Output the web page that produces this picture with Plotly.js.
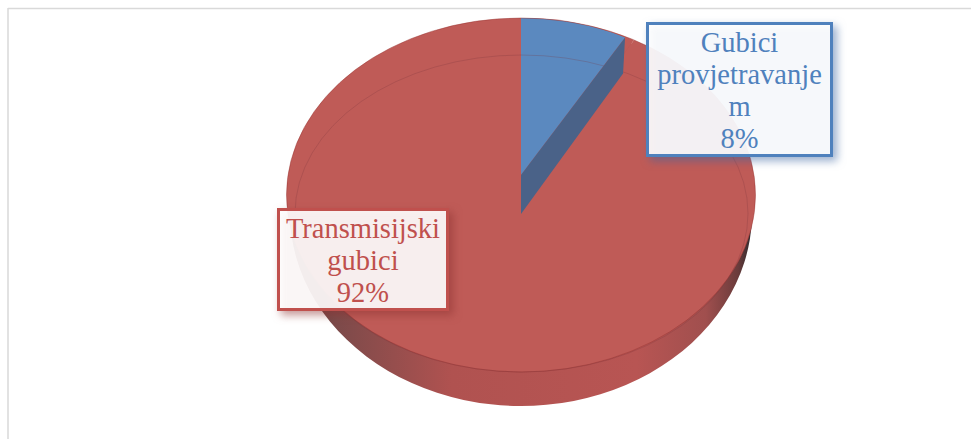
<!DOCTYPE html>
<html>
<head>
<meta charset="utf-8">
<script src="https://cdn.plot.ly/plotly-3.0.1.min.js"></script>
<style>html,body{margin:0;padding:0;background:#fff;overflow:hidden}</style>
</head>
<body>
<div id="chart" style="width:971px;height:439px"></div>
<script>
const categories = ["Gubici provjetravanjem", "Transmisijski gubici"];
const values = [8, 92];
const labelTexts = ["Gubici<br>provjetravanje<br>m<br>8%", "Transmisijski<br>gubici<br>92%"];

const W = 971, H = 439;
const BLUE = "#5B89BF", BLUE_DARK = "#4A6288", RED = "#BF5B57", NONE = "rgba(0,0,0,0)";
const px = x => x / W, py = y => 1 - y / H;

function pieTrace(colors) {
  return {
    type: "pie", labels: categories, values: values, sort: false,
    direction: "clockwise", rotation: 0, textinfo: "none", hoverinfo: "skip",
    showlegend: false, domain: {x: [0, 1], y: [0, 1]},
    marker: {colors: colors, line: {width: 0}}
  };
}

// wall, top face, top of the small slice
const data = [
  pieTrace([RED, RED]),
  pieTrace([RED, RED]),
  pieTrace([BLUE, NONE])
];
// projected ellipse of every layer: centre x, centre y, radius x, radius y
const ellipses = [
  [521, 213, 231, 193],
  [521, 195, 234.5, 177],
  [521, 175, 216, 157]
];

// cut face of the small slice follows the slice's angle
const sliceTop = ellipses[2];
const sliceDepth = 39;
const sliceAngle = 2 * Math.PI * values[0] / (values[0] + values[1]);
const edgeX = sliceTop[0] + sliceTop[2] * Math.sin(sliceAngle);
const edgeY = sliceTop[1] - sliceTop[3] * Math.cos(sliceAngle);
const cutFace = "M" + [
  [px(sliceTop[0]), py(sliceTop[1])],
  [px(edgeX), py(edgeY)],
  [px(edgeX - 2), py(edgeY + sliceDepth - 3)],
  [px(sliceTop[0]), py(sliceTop[1] + sliceDepth)]
].map(p => p.join(",")).join("L") + "Z";

const layout = {
  width: W, height: H,
  margin: {l: 0, r: 0, t: 0, b: 0},
  paper_bgcolor: "#fff",
  showlegend: false,
  shapes: [
    {type: "line", xref: "paper", yref: "paper", layer: "below", x0: px(8), x1: 1, y0: py(8.5), y1: py(8.5), line: {color: "#D9D9D9", width: 1.5}},
    {type: "line", xref: "paper", yref: "paper", layer: "below", x0: px(8), x1: px(8), y0: py(8), y1: 0, line: {color: "#D9D9D9", width: 1.5}},
    {type: "circle", xref: "paper", yref: "paper", layer: "above", x0: px(286.5), x1: px(755.5), y0: py(18), y1: py(372), line: {color: "rgba(150,50,48,0.45)", width: 1}},
    {type: "circle", xref: "paper", yref: "paper", layer: "above", x0: px(295), x1: px(748), y0: py(55), y1: py(372), line: {color: "rgba(120,50,60,0.25)", width: 1}},
    {type: "path", xref: "paper", yref: "paper", layer: "above", path: cutFace, fillcolor: BLUE_DARK, line: {width: 0}}
  ],
  annotations: [
    {xref: "paper", yref: "paper", x: px(739), y: py(89), xanchor: "center", yanchor: "middle", showarrow: false,
     text: labelTexts[0], width: 181, height: 129, borderpad: 0, borderwidth: 3, bordercolor: "#4F81BD",
     bgcolor: "rgba(255,255,255,0.91)", font: {family: "Liberation Serif", size: 28.5, color: "#4F81BD"}},
    {xref: "paper", yref: "paper", x: px(363), y: py(259), xanchor: "center", yanchor: "middle", showarrow: false,
     text: labelTexts[1], width: 166, height: 97, borderpad: 0, borderwidth: 3, bordercolor: "#C0504D",
     bgcolor: "rgba(255,255,255,0.91)", font: {family: "Liberation Serif", size: 28.5, color: "#C0504D"}}
  ]
};

Plotly.newPlot("chart", data, layout, {displayModeBar: false, staticPlot: true}).then(gd => {
  const svgNS = "http://www.w3.org/2000/svg";
  const traces = gd.querySelectorAll(".pielayer g.trace");
  let cd0;
  traces.forEach((g, i) => {
    cd0 = gd.calcdata[i][0];
    const [ex, ey, rx, ry] = ellipses[i];
    g.setAttribute("transform",
      `translate(${ex},${ey}) scale(${rx / cd0.r},${ry / cd0.r}) translate(${-cd0.cx},${-cd0.cy})`);
  });
  // shaded side wall
  const defs = document.createElementNS(svgNS, "defs");
  const grad = document.createElementNS(svgNS, "linearGradient");
  grad.setAttribute("id", "wallGrad");
  grad.setAttribute("gradientUnits", "userSpaceOnUse");
  grad.setAttribute("x1", cd0.cx - cd0.r); grad.setAttribute("x2", cd0.cx + cd0.r);
  grad.setAttribute("y1", 0); grad.setAttribute("y2", 0);
  [[0, "#5f3a3a"], [0.1, "#7c4a4a"], [0.35, "#B05250"], [0.75, "#B85553"],
   [0.9, "#A04F4E"], [0.97, "#6A3B3B"], [1, "#2D2A2D"]].forEach(([o, c]) => {
    const s = document.createElementNS(svgNS, "stop");
    s.setAttribute("offset", o); s.setAttribute("stop-color", c);
    grad.appendChild(s);
  });
  defs.appendChild(grad);
  gd.querySelector("svg.main-svg").appendChild(defs);
  traces[0].querySelectorAll("path.surface").forEach(p => { p.style.fill = "url(#wallGrad)"; });
  // callout shadows, tighter line spacing
  const shadows = ["rgba(60,100,160,0.55)", "rgba(140,50,48,0.55)"];
  gd.querySelectorAll(".annotation").forEach((a, i) => {
    const r = a.querySelector("rect.bg");
    r.style.filter = `drop-shadow(4px 4px 4px ${shadows[i]})`;
    const t = a.querySelector("text");
    t.querySelectorAll("tspan.line").forEach((l, n) => l.setAttribute("dy", (n * 31.7) + "px"));
    const rc = r.getBoundingClientRect(), tc = t.getBoundingClientRect();
    const shift = (rc.top + rc.height / 2 + 1) - (tc.top + tc.height / 2);
    t.setAttribute("transform", (t.getAttribute("transform") || "") + ` translate(0,${shift})`);
    t.removeAttribute("clip-path");
  });
});
</script>
</body>
</html>
